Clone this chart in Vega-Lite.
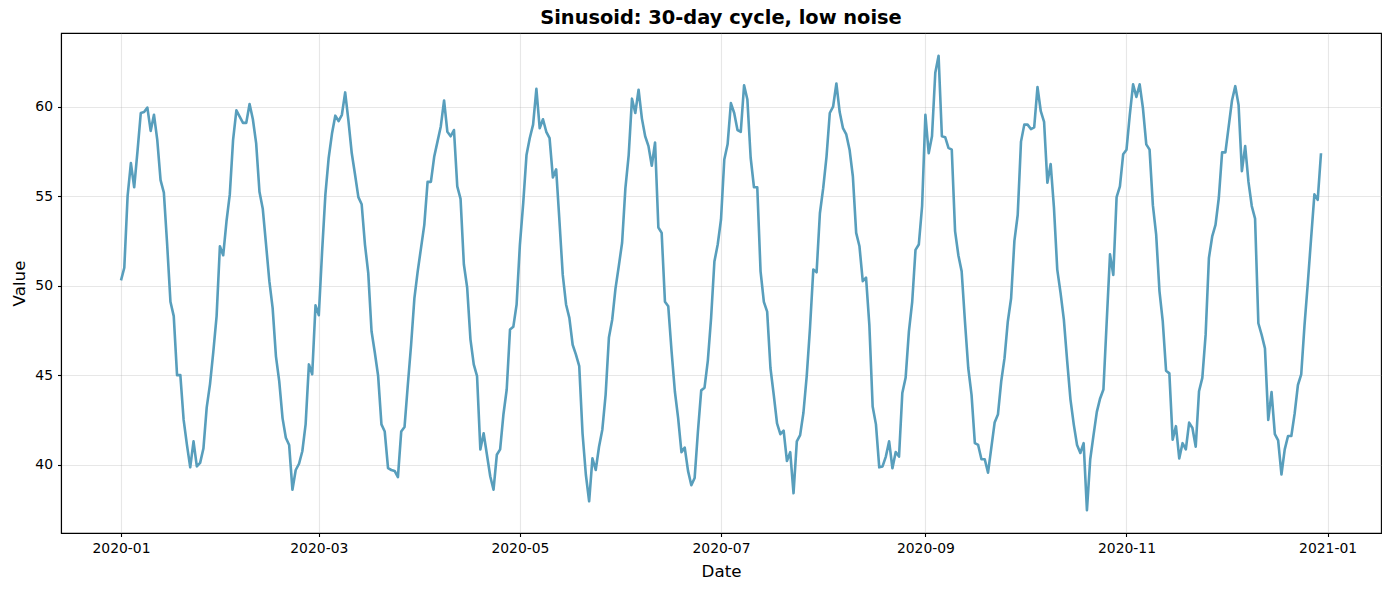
{
  "$schema": "https://vega.github.io/schema/vega-lite/v6.json",
  "width": 1320,
  "height": 500,
  "autosize": "none",
  "padding": {"left": 61, "top": 33, "right": 9, "bottom": 57},
  "background": "white",
  "title": {
    "text": "Sinusoid: 30-day cycle, low noise",
    "font": "DejaVu Sans",
    "fontSize": 19.4,
    "fontWeight": "bold",
    "color": "black",
    "offset": 5
  },
  "data": {
    "values": [
      {"date": "2020-01-01", "value": 50.3}, {"date": "2020-01-02", "value": 51.0}, {"date": "2020-01-03", "value": 55.0}, {"date": "2020-01-04", "value": 56.85},
      {"date": "2020-01-05", "value": 55.5}, {"date": "2020-01-06", "value": 57.5}, {"date": "2020-01-07", "value": 59.65}, {"date": "2020-01-08", "value": 59.7},
      {"date": "2020-01-09", "value": 59.95}, {"date": "2020-01-10", "value": 58.65}, {"date": "2020-01-11", "value": 59.55}, {"date": "2020-01-12", "value": 58.15},
      {"date": "2020-01-13", "value": 55.9}, {"date": "2020-01-14", "value": 55.2}, {"date": "2020-01-15", "value": 52.3}, {"date": "2020-01-16", "value": 49.1},
      {"date": "2020-01-17", "value": 48.3}, {"date": "2020-01-18", "value": 45.0}, {"date": "2020-01-19", "value": 45.0}, {"date": "2020-01-20", "value": 42.5},
      {"date": "2020-01-21", "value": 41.1}, {"date": "2020-01-22", "value": 39.85}, {"date": "2020-01-23", "value": 41.3}, {"date": "2020-01-24", "value": 39.9},
      {"date": "2020-01-25", "value": 40.1}, {"date": "2020-01-26", "value": 40.9}, {"date": "2020-01-27", "value": 43.2}, {"date": "2020-01-28", "value": 44.5},
      {"date": "2020-01-29", "value": 46.3}, {"date": "2020-01-30", "value": 48.3}, {"date": "2020-01-31", "value": 52.2},
      {"date": "2020-02-01", "value": 51.7}, {"date": "2020-02-02", "value": 53.6}, {"date": "2020-02-03", "value": 55.1}, {"date": "2020-02-04", "value": 58.15},
      {"date": "2020-02-05", "value": 59.8}, {"date": "2020-02-06", "value": 59.45}, {"date": "2020-02-07", "value": 59.1}, {"date": "2020-02-08", "value": 59.1},
      {"date": "2020-02-09", "value": 60.15}, {"date": "2020-02-10", "value": 59.3}, {"date": "2020-02-11", "value": 57.95}, {"date": "2020-02-12", "value": 55.25},
      {"date": "2020-02-13", "value": 54.3}, {"date": "2020-02-14", "value": 52.3}, {"date": "2020-02-15", "value": 50.25}, {"date": "2020-02-16", "value": 48.75},
      {"date": "2020-02-17", "value": 46.05}, {"date": "2020-02-18", "value": 44.65}, {"date": "2020-02-19", "value": 42.6}, {"date": "2020-02-20", "value": 41.5},
      {"date": "2020-02-21", "value": 41.1}, {"date": "2020-02-22", "value": 38.6}, {"date": "2020-02-23", "value": 39.7}, {"date": "2020-02-24", "value": 40.05},
      {"date": "2020-02-25", "value": 40.75}, {"date": "2020-02-26", "value": 42.25}, {"date": "2020-02-27", "value": 45.6}, {"date": "2020-02-28", "value": 45.05},
      {"date": "2020-02-29", "value": 48.9},
      {"date": "2020-03-01", "value": 48.35}, {"date": "2020-03-02", "value": 51.9}, {"date": "2020-03-03", "value": 55.1}, {"date": "2020-03-04", "value": 57.15},
      {"date": "2020-03-05", "value": 58.5}, {"date": "2020-03-06", "value": 59.5}, {"date": "2020-03-07", "value": 59.2}, {"date": "2020-03-08", "value": 59.55},
      {"date": "2020-03-09", "value": 60.8}, {"date": "2020-03-10", "value": 59.2}, {"date": "2020-03-11", "value": 57.4}, {"date": "2020-03-12", "value": 56.2},
      {"date": "2020-03-13", "value": 54.95}, {"date": "2020-03-14", "value": 54.55}, {"date": "2020-03-15", "value": 52.3}, {"date": "2020-03-16", "value": 50.7},
      {"date": "2020-03-17", "value": 47.45}, {"date": "2020-03-18", "value": 46.25}, {"date": "2020-03-19", "value": 44.95}, {"date": "2020-03-20", "value": 42.25},
      {"date": "2020-03-21", "value": 41.85}, {"date": "2020-03-22", "value": 39.8}, {"date": "2020-03-23", "value": 39.7}, {"date": "2020-03-24", "value": 39.65},
      {"date": "2020-03-25", "value": 39.3}, {"date": "2020-03-26", "value": 41.85}, {"date": "2020-03-27", "value": 42.1}, {"date": "2020-03-28", "value": 44.45},
      {"date": "2020-03-29", "value": 46.7}, {"date": "2020-03-30", "value": 49.3}, {"date": "2020-03-31", "value": 50.8},
      {"date": "2020-04-01", "value": 52.1}, {"date": "2020-04-02", "value": 53.4}, {"date": "2020-04-03", "value": 55.8}, {"date": "2020-04-04", "value": 55.8},
      {"date": "2020-04-05", "value": 57.2}, {"date": "2020-04-06", "value": 58.05}, {"date": "2020-04-07", "value": 58.9}, {"date": "2020-04-08", "value": 60.35},
      {"date": "2020-04-09", "value": 58.6}, {"date": "2020-04-10", "value": 58.35}, {"date": "2020-04-11", "value": 58.7}, {"date": "2020-04-12", "value": 55.55},
      {"date": "2020-04-13", "value": 54.85}, {"date": "2020-04-14", "value": 51.2}, {"date": "2020-04-15", "value": 49.9}, {"date": "2020-04-16", "value": 47.0},
      {"date": "2020-04-17", "value": 45.6}, {"date": "2020-04-18", "value": 44.95}, {"date": "2020-04-19", "value": 40.85}, {"date": "2020-04-20", "value": 41.75},
      {"date": "2020-04-21", "value": 40.55}, {"date": "2020-04-22", "value": 39.35}, {"date": "2020-04-23", "value": 38.6}, {"date": "2020-04-24", "value": 40.55},
      {"date": "2020-04-25", "value": 40.85}, {"date": "2020-04-26", "value": 42.8}, {"date": "2020-04-27", "value": 44.2}, {"date": "2020-04-28", "value": 47.55},
      {"date": "2020-04-29", "value": 47.7}, {"date": "2020-04-30", "value": 48.95},
      {"date": "2020-05-01", "value": 52.3}, {"date": "2020-05-02", "value": 54.6}, {"date": "2020-05-03", "value": 57.3}, {"date": "2020-05-04", "value": 58.25},
      {"date": "2020-05-05", "value": 59.0}, {"date": "2020-05-06", "value": 61.0}, {"date": "2020-05-07", "value": 58.8}, {"date": "2020-05-08", "value": 59.3},
      {"date": "2020-05-09", "value": 58.6}, {"date": "2020-05-10", "value": 58.25}, {"date": "2020-05-11", "value": 56.05}, {"date": "2020-05-12", "value": 56.5},
      {"date": "2020-05-13", "value": 53.6}, {"date": "2020-05-14", "value": 50.6}, {"date": "2020-05-15", "value": 48.95}, {"date": "2020-05-16", "value": 48.2},
      {"date": "2020-05-17", "value": 46.7}, {"date": "2020-05-18", "value": 46.15}, {"date": "2020-05-19", "value": 45.5}, {"date": "2020-05-20", "value": 41.75},
      {"date": "2020-05-21", "value": 39.45}, {"date": "2020-05-22", "value": 37.95}, {"date": "2020-05-23", "value": 40.35}, {"date": "2020-05-24", "value": 39.7},
      {"date": "2020-05-25", "value": 41.0}, {"date": "2020-05-26", "value": 41.95}, {"date": "2020-05-27", "value": 43.9}, {"date": "2020-05-28", "value": 47.1},
      {"date": "2020-05-29", "value": 48.1}, {"date": "2020-05-30", "value": 49.85}, {"date": "2020-05-31", "value": 51.1},
      {"date": "2020-06-01", "value": 52.4}, {"date": "2020-06-02", "value": 55.45}, {"date": "2020-06-03", "value": 57.3}, {"date": "2020-06-04", "value": 60.45},
      {"date": "2020-06-05", "value": 59.65}, {"date": "2020-06-06", "value": 60.95}, {"date": "2020-06-07", "value": 59.35}, {"date": "2020-06-08", "value": 58.35},
      {"date": "2020-06-09", "value": 57.8}, {"date": "2020-06-10", "value": 56.7}, {"date": "2020-06-11", "value": 58.0}, {"date": "2020-06-12", "value": 53.25},
      {"date": "2020-06-13", "value": 52.95}, {"date": "2020-06-14", "value": 49.1}, {"date": "2020-06-15", "value": 48.85}, {"date": "2020-06-16", "value": 46.35},
      {"date": "2020-06-17", "value": 44.1}, {"date": "2020-06-18", "value": 42.6}, {"date": "2020-06-19", "value": 40.7}, {"date": "2020-06-20", "value": 40.95},
      {"date": "2020-06-21", "value": 39.65}, {"date": "2020-06-22", "value": 38.85}, {"date": "2020-06-23", "value": 39.25}, {"date": "2020-06-24", "value": 41.85},
      {"date": "2020-06-25", "value": 44.15}, {"date": "2020-06-26", "value": 44.3}, {"date": "2020-06-27", "value": 45.8}, {"date": "2020-06-28", "value": 48.2},
      {"date": "2020-06-29", "value": 51.35}, {"date": "2020-06-30", "value": 52.3},
      {"date": "2020-07-01", "value": 53.7}, {"date": "2020-07-02", "value": 57.05}, {"date": "2020-07-03", "value": 57.9}, {"date": "2020-07-04", "value": 60.2},
      {"date": "2020-07-05", "value": 59.65}, {"date": "2020-07-06", "value": 58.7}, {"date": "2020-07-07", "value": 58.6}, {"date": "2020-07-08", "value": 61.2},
      {"date": "2020-07-09", "value": 60.4}, {"date": "2020-07-10", "value": 57.15}, {"date": "2020-07-11", "value": 55.5}, {"date": "2020-07-12", "value": 55.5},
      {"date": "2020-07-13", "value": 50.8}, {"date": "2020-07-14", "value": 49.1}, {"date": "2020-07-15", "value": 48.55}, {"date": "2020-07-16", "value": 45.4},
      {"date": "2020-07-17", "value": 43.9}, {"date": "2020-07-18", "value": 42.3}, {"date": "2020-07-19", "value": 41.7}, {"date": "2020-07-20", "value": 41.9},
      {"date": "2020-07-21", "value": 40.2}, {"date": "2020-07-22", "value": 40.7}, {"date": "2020-07-23", "value": 38.4}, {"date": "2020-07-24", "value": 41.3},
      {"date": "2020-07-25", "value": 41.65}, {"date": "2020-07-26", "value": 42.9}, {"date": "2020-07-27", "value": 44.95}, {"date": "2020-07-28", "value": 47.65},
      {"date": "2020-07-29", "value": 50.9}, {"date": "2020-07-30", "value": 50.75}, {"date": "2020-07-31", "value": 54.05},
      {"date": "2020-08-01", "value": 55.45}, {"date": "2020-08-02", "value": 57.2}, {"date": "2020-08-03", "value": 59.65}, {"date": "2020-08-04", "value": 60.0},
      {"date": "2020-08-05", "value": 61.3}, {"date": "2020-08-06", "value": 59.7}, {"date": "2020-08-07", "value": 58.8}, {"date": "2020-08-08", "value": 58.45},
      {"date": "2020-08-09", "value": 57.6}, {"date": "2020-08-10", "value": 56.1}, {"date": "2020-08-11", "value": 52.95}, {"date": "2020-08-12", "value": 52.2},
      {"date": "2020-08-13", "value": 50.25}, {"date": "2020-08-14", "value": 50.45}, {"date": "2020-08-15", "value": 47.8}, {"date": "2020-08-16", "value": 43.25},
      {"date": "2020-08-17", "value": 42.25}, {"date": "2020-08-18", "value": 39.85}, {"date": "2020-08-19", "value": 39.9}, {"date": "2020-08-20", "value": 40.45},
      {"date": "2020-08-21", "value": 41.3}, {"date": "2020-08-22", "value": 39.8}, {"date": "2020-08-23", "value": 40.7}, {"date": "2020-08-24", "value": 40.45},
      {"date": "2020-08-25", "value": 44.0}, {"date": "2020-08-26", "value": 44.85}, {"date": "2020-08-27", "value": 47.45}, {"date": "2020-08-28", "value": 49.1},
      {"date": "2020-08-29", "value": 52.0}, {"date": "2020-08-30", "value": 52.3}, {"date": "2020-08-31", "value": 54.45},
      {"date": "2020-09-01", "value": 59.55}, {"date": "2020-09-02", "value": 57.4}, {"date": "2020-09-03", "value": 58.35}, {"date": "2020-09-04", "value": 61.9},
      {"date": "2020-09-05", "value": 62.85}, {"date": "2020-09-06", "value": 58.35}, {"date": "2020-09-07", "value": 58.3}, {"date": "2020-09-08", "value": 57.7},
      {"date": "2020-09-09", "value": 57.6}, {"date": "2020-09-10", "value": 53.05}, {"date": "2020-09-11", "value": 51.7}, {"date": "2020-09-12", "value": 50.8},
      {"date": "2020-09-13", "value": 48.0}, {"date": "2020-09-14", "value": 45.4}, {"date": "2020-09-15", "value": 43.9}, {"date": "2020-09-16", "value": 41.2},
      {"date": "2020-09-17", "value": 41.1}, {"date": "2020-09-18", "value": 40.3}, {"date": "2020-09-19", "value": 40.3}, {"date": "2020-09-20", "value": 39.55},
      {"date": "2020-09-21", "value": 40.95}, {"date": "2020-09-22", "value": 42.35}, {"date": "2020-09-23", "value": 42.8}, {"date": "2020-09-24", "value": 44.65},
      {"date": "2020-09-25", "value": 45.95}, {"date": "2020-09-26", "value": 48.0}, {"date": "2020-09-27", "value": 49.3}, {"date": "2020-09-28", "value": 52.5},
      {"date": "2020-09-29", "value": 53.95}, {"date": "2020-09-30", "value": 58.05},
      {"date": "2020-10-01", "value": 59.0}, {"date": "2020-10-02", "value": 59.0}, {"date": "2020-10-03", "value": 58.75}, {"date": "2020-10-04", "value": 58.85},
      {"date": "2020-10-05", "value": 61.1}, {"date": "2020-10-06", "value": 59.75}, {"date": "2020-10-07", "value": 59.15}, {"date": "2020-10-08", "value": 55.75},
      {"date": "2020-10-09", "value": 56.8}, {"date": "2020-10-10", "value": 54.35}, {"date": "2020-10-11", "value": 50.9}, {"date": "2020-10-12", "value": 49.6},
      {"date": "2020-10-13", "value": 48.1}, {"date": "2020-10-14", "value": 45.8}, {"date": "2020-10-15", "value": 43.65}, {"date": "2020-10-16", "value": 42.25},
      {"date": "2020-10-17", "value": 41.1}, {"date": "2020-10-18", "value": 40.65}, {"date": "2020-10-19", "value": 41.2}, {"date": "2020-10-20", "value": 37.45},
      {"date": "2020-10-21", "value": 40.3}, {"date": "2020-10-22", "value": 41.65}, {"date": "2020-10-23", "value": 42.95}, {"date": "2020-10-24", "value": 43.7},
      {"date": "2020-10-25", "value": 44.2}, {"date": "2020-10-26", "value": 48.0}, {"date": "2020-10-27", "value": 51.75}, {"date": "2020-10-28", "value": 50.6},
      {"date": "2020-10-29", "value": 54.95}, {"date": "2020-10-30", "value": 55.55}, {"date": "2020-10-31", "value": 57.35},
      {"date": "2020-11-01", "value": 57.6}, {"date": "2020-11-02", "value": 59.55}, {"date": "2020-11-03", "value": 61.25}, {"date": "2020-11-04", "value": 60.55},
      {"date": "2020-11-05", "value": 61.25}, {"date": "2020-11-06", "value": 59.9}, {"date": "2020-11-07", "value": 57.9}, {"date": "2020-11-08", "value": 57.6},
      {"date": "2020-11-09", "value": 54.5}, {"date": "2020-11-10", "value": 52.85}, {"date": "2020-11-11", "value": 49.7}, {"date": "2020-11-12", "value": 48.0},
      {"date": "2020-11-13", "value": 45.25}, {"date": "2020-11-14", "value": 45.1}, {"date": "2020-11-15", "value": 41.4}, {"date": "2020-11-16", "value": 42.15},
      {"date": "2020-11-17", "value": 40.35}, {"date": "2020-11-18", "value": 41.2}, {"date": "2020-11-19", "value": 40.85}, {"date": "2020-11-20", "value": 42.35},
      {"date": "2020-11-21", "value": 42.05}, {"date": "2020-11-22", "value": 41.0}, {"date": "2020-11-23", "value": 44.1}, {"date": "2020-11-24", "value": 44.85},
      {"date": "2020-11-25", "value": 47.25}, {"date": "2020-11-26", "value": 51.55}, {"date": "2020-11-27", "value": 52.75}, {"date": "2020-11-28", "value": 53.4},
      {"date": "2020-11-29", "value": 54.9}, {"date": "2020-11-30", "value": 57.45},
      {"date": "2020-12-01", "value": 57.45}, {"date": "2020-12-02", "value": 58.9}, {"date": "2020-12-03", "value": 60.35}, {"date": "2020-12-04", "value": 61.15},
      {"date": "2020-12-05", "value": 60.1}, {"date": "2020-12-06", "value": 56.4}, {"date": "2020-12-07", "value": 57.8}, {"date": "2020-12-08", "value": 55.8},
      {"date": "2020-12-09", "value": 54.45}, {"date": "2020-12-10", "value": 53.75}, {"date": "2020-12-11", "value": 47.9}, {"date": "2020-12-12", "value": 47.25},
      {"date": "2020-12-13", "value": 46.5}, {"date": "2020-12-14", "value": 42.5}, {"date": "2020-12-15", "value": 44.05}, {"date": "2020-12-16", "value": 41.7},
      {"date": "2020-12-17", "value": 41.35}, {"date": "2020-12-18", "value": 39.45}, {"date": "2020-12-19", "value": 40.85}, {"date": "2020-12-20", "value": 41.6},
      {"date": "2020-12-21", "value": 41.6}, {"date": "2020-12-22", "value": 42.85}, {"date": "2020-12-23", "value": 44.45}, {"date": "2020-12-24", "value": 45.05},
      {"date": "2020-12-25", "value": 47.8}, {"date": "2020-12-26", "value": 50.15}, {"date": "2020-12-27", "value": 52.65}, {"date": "2020-12-28", "value": 55.1},
      {"date": "2020-12-29", "value": 54.8}, {"date": "2020-12-30", "value": 57.4}
    ]
  },
  "mark": {
    "type": "line",
    "color": "#589ebc",
    "strokeWidth": 2.6,
    "strokeJoin": "round",
    "strokeCap": "butt"
  },
  "encoding": {
    "x": {
      "field": "date",
      "type": "temporal",
      "scale": {"type": "utc", "domain": [1576264320000, 1610858880000], "nice": false},
      "axis": {
        "title": "Date",
        "format": "%Y-%m",
        "tickCount": {"interval": "month", "step": 2},
        "labelFlush": false,
        "labelOverlap": false,
        "titleX": 660,
        "titleY": 30
      }
    },
    "y": {
      "field": "value",
      "type": "quantitative",
      "scale": {"domain": [36.18, 64.12], "nice": false, "zero": false},
      "axis": {
        "title": "Value",
        "values": [40, 45, 50, 55, 60],
        "titleX": -33,
        "titleY": 250
      }
    }
  },
  "config": {
    "font": "DejaVu Sans",
    "view": {"stroke": "black", "strokeWidth": 1.1},
    "axis": {
      "domainColor": "black",
      "domainWidth": 1.1,
      "tickColor": "black",
      "tickWidth": 1.1,
      "tickSize": 3.5,
      "labelFont": "DejaVu Sans",
      "labelFontSize": 13.9,
      "labelColor": "black",
      "labelPadding": 5,
      "titleFont": "DejaVu Sans",
      "titleFontSize": 16.7,
      "titleFontWeight": "normal",
      "titleColor": "black",
      "gridColor": "#b0b0b0",
      "gridOpacity": 0.3,
      "gridWidth": 1.1
    }
  }
}
